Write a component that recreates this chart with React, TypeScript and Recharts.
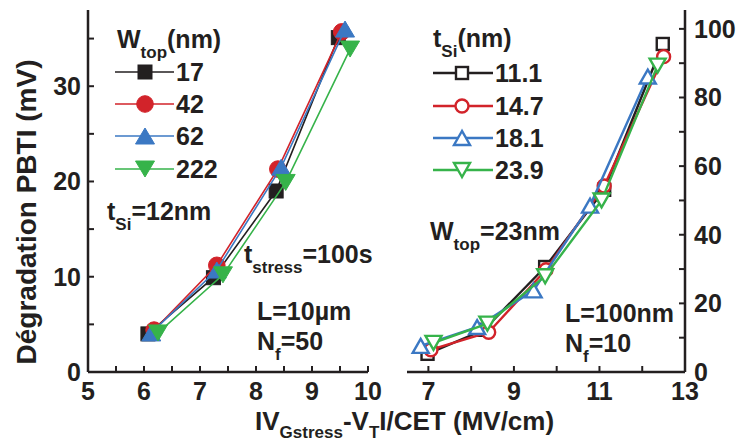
import React from 'react';
import { ScatterChart, Scatter, XAxis, YAxis } from 'recharts';

const FONT = "'Liberation Sans', Arial, Helvetica, sans-serif";
const INK = '#231f20';
const RED = '#d2232a';
const BLUE = '#3b78c3';
const GREEN = '#36b34a';

// left panel: t_Si = 12nm, series by W_top (nm)
const wTopNames = ['17', '42', '62', '222'];
const w17X = [6.07, 7.24, 8.36, 9.47];
const w17Y = [4.0, 9.9, 19.0, 35.1];
const w42X = [6.18, 7.3, 8.39, 9.53];
const w42Y = [4.4, 11.2, 21.3, 35.7];
const w62X = [6.13, 7.3, 8.45, 9.59];
const w62Y = [4.1, 10.7, 21.5, 36.0];
const w222X = [6.25, 7.41, 8.53, 9.68];
const w222Y = [4.1, 10.2, 19.9, 33.9];

// right panel: W_top = 23nm, series by t_Si (nm)
const tSiNames = ['11.1', '14.7', '18.1', '23.9'];
const t111X = [6.98, 8.3, 9.73, 11.11, 12.48];
const t111Y = [5.3, 12.3, 30.6, 53.1, 95.6];
const t147X = [7.06, 8.41, 9.75, 11.11, 12.5];
const t147Y = [6.5, 11.6, 29.8, 54.2, 91.9];
const t181X = [6.82, 8.14, 9.46, 10.78, 12.13];
const t181Y = [7.6, 13.1, 23.8, 48.5, 86.1];
const t239X = [7.12, 8.38, 9.73, 11.05, 12.36];
const t239Y = [8.5, 14.1, 27.9, 50.0, 89.3];

// ticks (minor ticks carry no label)
const leftXTicks = [5, 5.5, 6, 6.5, 7, 7.5, 8, 8.5, 9, 9.5, 10];
const leftXLabels = [5, 6, 7, 8, 9, 10];
const leftYTicks = [0, 5, 10, 15, 20, 25, 30, 35];
const leftYLabels = [0, 10, 20, 30];
const rightXTicks = [7, 8, 9, 10, 11, 12, 13];
const rightXLabels = [7, 9, 11, 13];
const rightYTicks = [0, 10, 20, 30, 40, 50, 60, 70, 80, 90, 100];
const rightYLabels = [0, 20, 40, 60, 80, 100];

const pts = (xs: number[], ys: number[]) => xs.map((x, i) => ({ x, y: ys[i] }));

type Kind = 'square' | 'circle' | 'up' | 'down';

const Mark = ({ kind, cx, cy, color, open }: { kind: Kind; cx: number; cy: number; color: string; open?: boolean }) => {
  const st = open
    ? { fill: '#fff', stroke: color, strokeWidth: 2.4 }
    : { fill: color, stroke: color, strokeWidth: 1 };
  const s = open ? 12 : 14;
  const r = open ? 6.5 : 8.3;
  const w = open ? 16 : 19;
  const h = open ? 14 : 16;
  if (kind === 'square') return <rect x={cx - s / 2} y={cy - s / 2} width={s} height={s} {...st} />;
  if (kind === 'circle') return <circle cx={cx} cy={cy} r={r} {...st} />;
  if (kind === 'up')
    return <polygon points={`${cx},${cy - h / 2} ${cx - w / 2},${cy + h / 2} ${cx + w / 2},${cy + h / 2}`} {...st} />;
  return <polygon points={`${cx},${cy + h / 2} ${cx - w / 2},${cy - h / 2} ${cx + w / 2},${cy - h / 2}`} {...st} />;
};

const leftSeries = [
  { name: wTopNames[0], data: pts(w17X, w17Y), color: INK, kind: 'square' as Kind },
  { name: wTopNames[1], data: pts(w42X, w42Y), color: RED, kind: 'circle' as Kind },
  { name: wTopNames[2], data: pts(w62X, w62Y), color: BLUE, kind: 'up' as Kind },
  { name: wTopNames[3], data: pts(w222X, w222Y), color: GREEN, kind: 'down' as Kind },
];

const rightSeries = [
  { name: tSiNames[0], data: pts(t111X, t111Y), color: INK, kind: 'square' as Kind },
  { name: tSiNames[1], data: pts(t147X, t147Y), color: RED, kind: 'circle' as Kind },
  { name: tSiNames[2], data: pts(t181X, t181Y), color: BLUE, kind: 'up' as Kind },
  { name: tSiNames[3], data: pts(t239X, t239Y), color: GREEN, kind: 'down' as Kind },
];

const tickText = { fill: INK, fontSize: 25, fontWeight: 700, fontFamily: FONT };
const axisLine = { stroke: INK, strokeWidth: 2.5 };
const tickLine = { stroke: INK, strokeWidth: 2 };
const only = (labels: number[]) => (v: number) => (labels.includes(v) ? String(v) : '');

const txt = { fill: INK, fontWeight: 700, fontFamily: FONT, fontSize: 25 };

const SubText = ({ x, y, a, sub, b, size = 25, subSize = 17, drop = 10 }: any) => (
  <text x={x} y={y} {...txt} fontSize={size}>
    {a}
    <tspan fontSize={subSize} dy={drop}>{sub}</tspan>
    <tspan dy={-drop}>{b}</tspan>
  </text>
);

const LegendRow = ({ y, x1, x2, mx, lx, color, kind, open, label }: any) => (
  <g>
    <line x1={x1} x2={x2} y1={y} y2={y} stroke={color} strokeWidth={open ? 2.4 : 1.6} />
    <Mark kind={kind} cx={mx} cy={y} color={color} open={open} />
    <text x={lx} y={y + 9} {...txt}>{label}</text>
  </g>
);

export default function App() {
  const leftRows = [72, 104, 136, 169];
  const rightRows = [73, 106, 138, 170];
  return (
    <div style={{ position: 'absolute', left: 0, top: 0, width: 741, height: 443, background: '#fff', overflow: 'hidden' }}>
      <div style={{ position: 'absolute', left: 0, top: 0 }}>
        <ScatterChart width={400} height={443} margin={{ top: 10, right: 32, bottom: 31, left: 0 }}>
          <XAxis xAxisId="b" type="number" dataKey="x" domain={[5, 10]} ticks={leftXTicks} interval={0}
            tickFormatter={only(leftXLabels)} tickSize={-6} tickMargin={16} height={40}
            axisLine={axisLine} tickLine={tickLine} tick={tickText} allowDataOverflow />
          <XAxis xAxisId="t" orientation="top" type="number" dataKey="x" domain={[5, 10]} ticks={leftXTicks} interval={0}
            tick={false} mirror height={0} tickSize={6} axisLine={axisLine} tickLine={tickLine} allowDataOverflow />
          <YAxis yAxisId="l" type="number" dataKey="y" domain={[0, 38]} ticks={leftYTicks} interval={0}
            tickFormatter={only(leftYLabels)} tickSize={-6} tickMargin={13} width={88}
            axisLine={axisLine} tickLine={tickLine} tick={tickText} allowDataOverflow />
          <YAxis yAxisId="r" orientation="right" type="number" dataKey="y" domain={[0, 38]} ticks={leftYTicks} interval={0}
            tick={false} mirror width={0} tickSize={6} axisLine={axisLine} tickLine={tickLine} allowDataOverflow />
          {leftSeries.map((s) => (
            <Scatter key={s.name} name={s.name} xAxisId="b" yAxisId="l" data={s.data} fill={s.color}
              line={{ stroke: s.color, strokeWidth: 1.6 }} lineJointType="linear"
              shape={(p: any) => <Mark kind={s.kind} cx={p.cx} cy={p.cy} color={s.color} />}
              isAnimationActive={false} />
          ))}
        </ScatterChart>
      </div>
      <div style={{ position: 'absolute', left: 390, top: 0 }}>
        <ScatterChart width={351} height={443} margin={{ top: 10, right: 0, bottom: 31, left: 17 }}>
          <XAxis xAxisId="b" type="number" dataKey="x" domain={[6.5, 13]} ticks={rightXTicks} interval={0}
            tickFormatter={only(rightXLabels)} tickSize={-6} tickMargin={16} height={40}
            axisLine={axisLine} tickLine={tickLine} tick={tickText} allowDataOverflow />
          <XAxis xAxisId="t" orientation="top" type="number" dataKey="x" domain={[6.5, 13]} ticks={rightXTicks} interval={0}
            tick={false} mirror height={0} tickSize={6} axisLine={axisLine} tickLine={tickLine} allowDataOverflow />
          <YAxis yAxisId="l" type="number" dataKey="y" domain={[0, 105.5]} ticks={rightYTicks} interval={0}
            tick={false} mirror width={0} tickSize={6} axisLine={axisLine} tickLine={tickLine} allowDataOverflow />
          <YAxis yAxisId="r" orientation="right" type="number" dataKey="y" domain={[0, 105.5]} ticks={rightYTicks} interval={0}
            tickFormatter={only(rightYLabels)} tickSize={-6} tickMargin={15} width={56}
            axisLine={axisLine} tickLine={tickLine} tick={{ ...tickText, textAnchor: 'start' }} allowDataOverflow />
          {rightSeries.map((s) => (
            <Scatter key={s.name} name={s.name} xAxisId="b" yAxisId="r" data={s.data} fill={s.color}
              line={{ stroke: s.color, strokeWidth: 2.4 }} lineJointType="linear"
              shape={(p: any) => <Mark kind={s.kind} cx={p.cx} cy={p.cy} color={s.color} open />}
              isAnimationActive={false} />
          ))}
        </ScatterChart>
      </div>
      <svg width={741} height={443} style={{ position: 'absolute', left: 0, top: 0, pointerEvents: 'none' }}>
        {/* axis titles */}
        <text transform="rotate(-90)" x={-212} y={36} textAnchor="middle" {...txt} fontSize={28}>Dégradation PBTI (mV)</text>
        <text x={255} y={430} {...txt} fontSize={26}>
          IV<tspan fontSize={17} dy={8}>Gstress</tspan>
          <tspan dy={-8}>-V</tspan>
          <tspan fontSize={17} dy={8}>T</tspan>
          <tspan dy={-8}>I/CET (MV/cm)</tspan>
        </text>
        {/* left legend */}
        <SubText x={117} y={48} a="W" sub="top" b="(nm)" />
        {leftSeries.map((s, i) => (
          <LegendRow key={s.name} y={leftRows[i]} x1={115} x2={174} mx={145} lx={176} color={s.color} kind={s.kind} label={s.name} />
        ))}
        <SubText x={107} y={220} a="t" sub="Si" b="=12nm" />
        <SubText x={244} y={263} a="t" sub="stress" b="=100s" />
        <text x={257} y={320} {...txt}>L=10µm</text>
        <SubText x={257} y={350} a="N" sub="f" b="=50" />
        {/* right legend */}
        <SubText x={433} y={47} a="t" sub="Si" b="(nm)" />
        {rightSeries.map((s, i) => (
          <LegendRow key={s.name} y={rightRows[i]} x1={433} x2={493} mx={462} lx={495} color={s.color} kind={s.kind} open label={s.name} />
        ))}
        <SubText x={430} y={240} a="W" sub="top" b="=23nm" />
        <text x={565} y={322} {...txt}>L=100nm</text>
        <SubText x={565} y={352} a="N" sub="f" b="=10" />
      </svg>
    </div>
  );
}
